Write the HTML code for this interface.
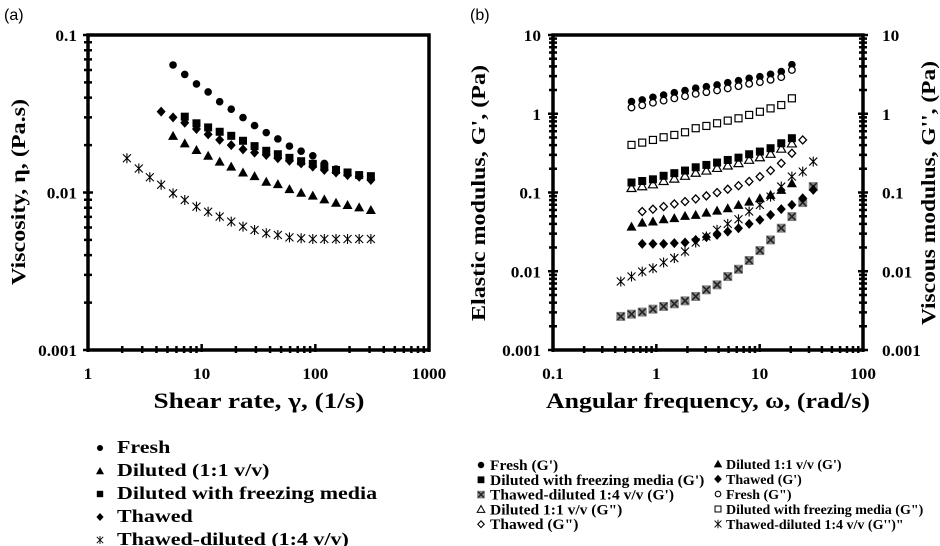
<!DOCTYPE html>
<html><head><meta charset="utf-8"><style>
body{margin:0;background:#fff;}
svg{display:block;}
text{font-family:"Liberation Serif",serif;font-weight:bold;fill:#000;}
.sans{font-family:"Liberation Sans",sans-serif;font-weight:normal;}
</style></head><body>
<svg id="c" width="940" height="546" viewBox="0 0 940 546">
<text class="sans" x="4" y="20" font-size="16">(a)</text>
<text class="sans" x="470" y="20" font-size="16">(b)</text>
<g id="ga"></g>
<g id="gb"></g>
</svg>
<script>
// ---- Panel (a) data ----
const shearFresh=[5.6,7.1,9.0,11.4,14.4,18.2,23.1,29.2,37.0,46.8,59.2,75,95,120,152,192,243,308];
const viscFresh=[0.0645,0.0562,0.0489,0.0435,0.0377,0.0338,0.0299,0.0266,0.0240,0.0219,0.0197,0.0183,0.0171,0.0153,0.0141,0.0134,0.0129,0.0123];
const shearDil=[5.6,7.1,9.0,11.4,14.4,18.2,23.1,29.2,37.0,46.8,59.2,75,95,120,152,192,243,308];
const viscDil=[0.0229,0.0205,0.0186,0.0171,0.0157,0.0146,0.0134,0.0127,0.0117,0.0113,0.0105,0.00997,0.00955,0.00905,0.00861,0.00833,0.00805,0.00774];
const shearMed=[7.1,9.0,11.4,14.4,18.2,23.1,29.2,37.0,46.8,59.2,75,95,120,152,192,243,308];
const viscMed=[0.0303,0.0275,0.0259,0.0243,0.0229,0.0213,0.0197,0.0184,0.0175,0.0166,0.0158,0.0152,0.0146,0.0139,0.0134,0.0129,0.0127];
const shearTh=[4.4,5.6,7.1,9.0,11.4,14.4,18.2,23.1,29.2,37.0,46.8,59.2,75,95,120,152,192,243,308];
const viscTh=[0.0326,0.0300,0.0277,0.0253,0.0234,0.0216,0.0200,0.0188,0.0179,0.0173,0.0165,0.0159,0.0153,0.0146,0.0139,0.0134,0.0129,0.0126,0.0120];
const shearTD=[2.2,2.8,3.5,4.4,5.6,7.1,9.0,11.4,14.4,18.2,23.1,29.2,37.0,46.8,59.2,75,95,120,152,192,243,308];
const viscTD=[0.0165,0.0142,0.0125,0.0112,0.00988,0.00896,0.00813,0.00755,0.00703,0.00653,0.00607,0.00578,0.00551,0.00537,0.00519,0.00512,0.00507,0.00507,0.00507,0.00507,0.00507,0.00507];
const xTicksA=["1","10","100","1000"];
const yTicksA=["0.001","0.01","0.1"];
// ---- Panel (b) data ----
const freqA=[0.575,0.730,0.927,1.176,1.493,1.895,2.404,3.05,3.87,4.91,6.24,7.91,10.05,12.75,16.18,20.5];
const freqB=[0.730,0.927,1.176,1.493,1.895,2.404,3.05,3.87,4.91,6.24,7.91,10.05,12.75,16.18,20.5,26.1];
const freqC=[0.453,0.575,0.730,0.927,1.176,1.493,1.895,2.404,3.05,3.87,4.91,6.24,7.91,10.05,12.75,16.18,20.5,26.1,33.0];
const gpFresh=[1.43,1.50,1.62,1.73,1.85,1.97,2.11,2.21,2.32,2.48,2.63,2.82,2.96,3.17,3.43,4.2];
const gppFresh=[1.2,1.28,1.38,1.47,1.57,1.67,1.79,1.88,1.98,2.1,2.24,2.4,2.52,2.7,2.92,3.6];
const gppMed=[0.402,0.43,0.465,0.503,0.538,0.582,0.655,0.70,0.757,0.818,0.875,0.966,1.06,1.17,1.29,1.57];
const gpMed=[0.134,0.140,0.147,0.163,0.176,0.190,0.209,0.224,0.240,0.259,0.277,0.306,0.331,0.365,0.422,0.489];
const gppDil=[0.114,0.12,0.127,0.14,0.15,0.163,0.178,0.19,0.205,0.22,0.236,0.26,0.28,0.31,0.36,0.42];
const gpDil=[0.0369,0.0415,0.0428,0.0458,0.0472,0.0505,0.052,0.0556,0.0589,0.0631,0.0697,0.0767,0.0845,0.0933,0.108,0.131];
const gppTh=[0.0573,0.0614,0.0662,0.0716,0.0767,0.0829,0.0906,0.0998,0.110,0.122,0.138,0.159,0.190,0.235,0.315,0.465];
const gpTh=[0.0223,0.0223,0.0223,0.0228,0.0232,0.025,0.0271,0.029,0.0319,0.0352,0.040,0.0449,0.052,0.0614,0.0697,0.0845,0.108];
const freqTh=[0.730,0.927,1.176,1.493,1.895,2.404,3.05,3.87,4.91,6.24,7.91,10.05,12.75,16.18,20.5,26.1,33.0];
const gppTD=[0.00741,0.00857,0.0099,0.0109,0.0129,0.0147,0.0178,0.0232,0.0276,0.0335,0.040,0.0458,0.0573,0.0697,0.0887,0.119,0.159,0.184,0.247];
const gpTD=[0.00267,0.00285,0.00303,0.0033,0.00357,0.00386,0.00421,0.00478,0.00581,0.00672,0.00857,0.0106,0.0137,0.0183,0.025,0.0352,0.0494,0.0745,0.119];
const xTicksB=["0.1","1","10","100"];
const yTicksB=["0.001","0.01","0.1","1","10"];

const NS="http://www.w3.org/2000/svg";
function mk(tag,attrs,parent){const e=document.createElementNS(NS,tag);for(const k in attrs)e.setAttribute(k,attrs[k]);parent.appendChild(e);return e;}
function stretch(e,f){const w=e.getComputedTextLength();e.setAttribute('textLength',(w*f).toFixed(1));e.setAttribute('lengthAdjust','spacingAndGlyphs');}

function marker(g,type,x,y,sc){
  sc=sc||1;
  const grp=mk('g',{},g);
  
  
  if(sc!==1)grp.setAttribute('transform',`translate(${x},${y}) scale(${sc}) translate(${-x},${-y})`);
  const s=4;
  if(type==='circle')mk('circle',{cx:x,cy:y,r:3.8,fill:'#000'},grp);
  else if(type==='ocircle')mk('circle',{cx:x,cy:y,r:3.3,fill:'#fff',stroke:'#000','stroke-width':1.3},grp);
  else if(type==='square')mk('rect',{x:x-s,y:y-s,width:2*s,height:2*s,fill:'#000'},grp);
  else if(type==='osquare')mk('rect',{x:x-3.5,y:y-3.5,width:7,height:7,fill:'#fff',stroke:'#000','stroke-width':1.2},grp);
  else if(type==='tri')mk('polygon',{points:`${x},${y-5} ${x+5},${y+4} ${x-5},${y+4}`,fill:'#000'},grp);
  else if(type==='otri')mk('polygon',{points:`${x},${y-4.5} ${x+4.5},${y+3.5} ${x-4.5},${y+3.5}`,fill:'#fff',stroke:'#000','stroke-width':1.2},grp);
  else if(type==='dia')mk('polygon',{points:`${x},${y-5} ${x+4.5},${y} ${x},${y+5} ${x-4.5},${y}`,fill:'#000'},grp);
  else if(type==='odia')mk('polygon',{points:`${x},${y-4} ${x+3.8},${y} ${x},${y+4} ${x-3.8},${y}`,fill:'#fff',stroke:'#000','stroke-width':1.3},grp);
  else if(type==='ast'){const d=4;mk('path',{d:`M${x-d},${y-d}L${x+d},${y+d}M${x-d},${y+d}L${x+d},${y-d}M${x},${y-d-1}L${x},${y+d+1}`,stroke:'#000','stroke-width':1.1,fill:'none'},grp);}
  else if(type==='gx'){mk('rect',{x:x-4.5,y:y-4.5,width:9,height:9,fill:'#888'},grp);const d=3.5;mk('path',{d:`M${x-d},${y-d}L${x+d},${y+d}M${x-d},${y+d}L${x+d},${y-d}`,stroke:'#222','stroke-width':1.6},grp);}
}

function frame(g,x0,y0,x1,y1,xs,ys,xdec,ydec,yBase,xBase,rightTicks){
  mk('rect',{x:x0,y:y0,width:x1-x0,height:y1-y0,fill:'none',stroke:'#000','stroke-width':3.5},g);
  const tk=[];
  for(let d=0;d<xdec;d++)for(let m=1;m<=10;m++){const lx=xs(Math.pow(10,d+xBase)*m);const maj=(m===1||m===10);tk.push(`M${lx},${y1-(maj?6:4)}L${lx},${y1+(maj?2:3)}`);}
  for(let d=0;d<ydec;d++)for(let m=1;m<=10;m++){const v=Math.pow(10,d+yBase)*m;const ly=ys(v);const maj=(m===1||m===10);
    tk.push(`M${x0-(maj?5:4)},${ly}L${x0+(maj?5:4)},${ly}`);
    if(rightTicks)tk.push(`M${x1-(maj?5:4)},${ly}L${x1+(maj?5:4)},${ly}`);}
  const p=mk('path',{d:tk.join(''),stroke:'#000','stroke-width':2.5,fill:'none'},g);
  
  
}

// ---- Panel A ----
(function(){
const g=document.getElementById('ga');
const X0=88,X1=429,Y0=35,Y1=350;
const xs=v=>X0+(Math.log10(v)-0)*(X1-X0)/3;
const ys=v=>Y0+(-1-Math.log10(v))*(Y1-Y0)/2;
frame(g,X0,Y0,X1,Y1,xs,ys,3,2,-3,0,false);
xTicksA.forEach((t,i)=>{const e=mk('text',{x:X0+i*(X1-X0)/3,y:Y1+29,'font-size':16,'text-anchor':'middle'},g);e.textContent=t;stretch(e,1.08);
  });
yTicksA.forEach((t,i)=>{const e=mk('text',{x:X0-11,y:Y1-i*(Y1-Y0)/2+6,'font-size':16,'text-anchor':'end'},g);e.textContent=t;stretch(e,1.08);
  });
const series=[[shearTD,viscTD,'ast'],[shearDil,viscDil,'tri'],[shearTh,viscTh,'dia'],[shearMed,viscMed,'square'],[shearFresh,viscFresh,'circle']];
series.forEach(s=>{const sg=mk('g',{},g);
  s[0].forEach((x,i)=>marker(sg,s[2],xs(x),ys(s[1][i])));});
})();

// ---- Panel B ----
(function(){
const g=document.getElementById('gb');
const X0=553,X1=863,Y0=35,Y1=350;
const xs=v=>X0+(Math.log10(v)+1)*(X1-X0)/3;
const ys=v=>Y0+(1-Math.log10(v))*(Y1-Y0)/4;
frame(g,X0,Y0,X1,Y1,xs,ys,3,4,-3,-1,true);
xTicksB.forEach((t,i)=>{const e=mk('text',{x:X0+i*(X1-X0)/3,y:Y1+29,'font-size':16,'text-anchor':'middle'},g);e.textContent=t;stretch(e,1.08);
  });
yTicksB.forEach((t,i)=>{const y=Y1-i*(Y1-Y0)/4+6;
  const e=mk('text',{x:X0-12,y:y,'font-size':16,'text-anchor':'end'},g);e.textContent=t;stretch(e,1.08);
  
  const r=mk('text',{x:X1+19,y:y,'font-size':16},g);r.textContent=t;stretch(r,1.08);
  });
const series=[[freqC,gpTD,'gx'],[freqC,gppTD,'ast'],[freqTh,gpTh,'dia'],[freqA,gpDil,'tri'],[freqB,gppTh,'odia'],[freqA,gppDil,'otri'],[freqA,gpMed,'square'],[freqA,gppMed,'osquare'],[freqA,gpFresh,'circle'],[freqA,gppFresh,'ocircle']];
series.forEach(s=>{const sg=mk('g',{},g);
  s[0].forEach((x,i)=>marker(sg,s[2],xs(x),ys(s[1][i])));});
})();

// ---- Titles ----
const svg=document.getElementById('c');
function txt(s,attrs,name,len){const e=mk('text',attrs,svg);e.textContent=s;
  if(len){e.setAttribute('textLength',len);e.setAttribute('lengthAdjust','spacingAndGlyphs');}return e;}
txt('Viscosity, η, (Pa.s)',{x:0,y:0,'font-size':20,'text-anchor':'middle',transform:'translate(25,192) rotate(-90)'},'y-axis-title',186);
txt('Shear rate, γ, (1/s)',{x:259,y:408,'font-size':22,'text-anchor':'middle'},'x-axis-title',211);
txt("Elastic modulus, G', (Pa)",{x:0,y:0,'font-size':20,'text-anchor':'middle',transform:'translate(485,193) rotate(-90)'},'left-y-axis-title',256);
txt("Viscous modulus, G'', (Pa)",{x:0,y:0,'font-size':20,'text-anchor':'middle',transform:'translate(935,193) rotate(-90)'},'right-y-axis-title',264);
txt('Angular  frequency, ω, (rad/s)',{x:708,y:408,'font-size':22,'text-anchor':'middle'},'x-axis-title-b',324);

// ---- Legends ----
const legA=[['circle','Fresh'],['tri','Diluted (1:1 v/v)'],['square','Diluted with freezing media'],['dia','Thawed'],['ast','Thawed-diluted (1:4 v/v)']];
legA.forEach((l,i)=>{const y=448+i*23;const lg=mk('g',{},svg);
  marker(lg,l[0],100,y,0.8);const e=mk('text',{x:117,y:y+5,'font-size':18},lg);e.textContent=l[1];stretch(e,1.22);});
const legB1=[['circle',"Fresh (G')"],['square',"Diluted with freezing media (G')"],['gx',"Thawed-diluted 1:4 v/v (G')"],['otri','Diluted 1:1 v/v (G")'],['odia','Thawed (G")']];
const legB2=[['tri',"Diluted 1:1 v/v (G')"],['dia',"Thawed (G')"],['ocircle','Fresh (G")'],['osquare','Diluted with freezing media (G")'],['ast',"Thawed-diluted 1:4 v/v (G'')\""]];
legB1.forEach((l,i)=>{const y=465+i*14.8;const lg=mk('g',{},svg);
  marker(lg,l[0],481,y,0.85);const e=mk('text',{x:490,y:y+5,'font-size':14.5},lg);e.textContent=l[1];stretch(e,1.07);});
legB2.forEach((l,i)=>{const y=464+i*15;const lg=mk('g',{},svg);
  marker(lg,l[0],718,y,0.85);const e=mk('text',{x:726,y:y+5,'font-size':14},lg);e.textContent=l[1];stretch(e,1.0);});
</script>
</body></html>
